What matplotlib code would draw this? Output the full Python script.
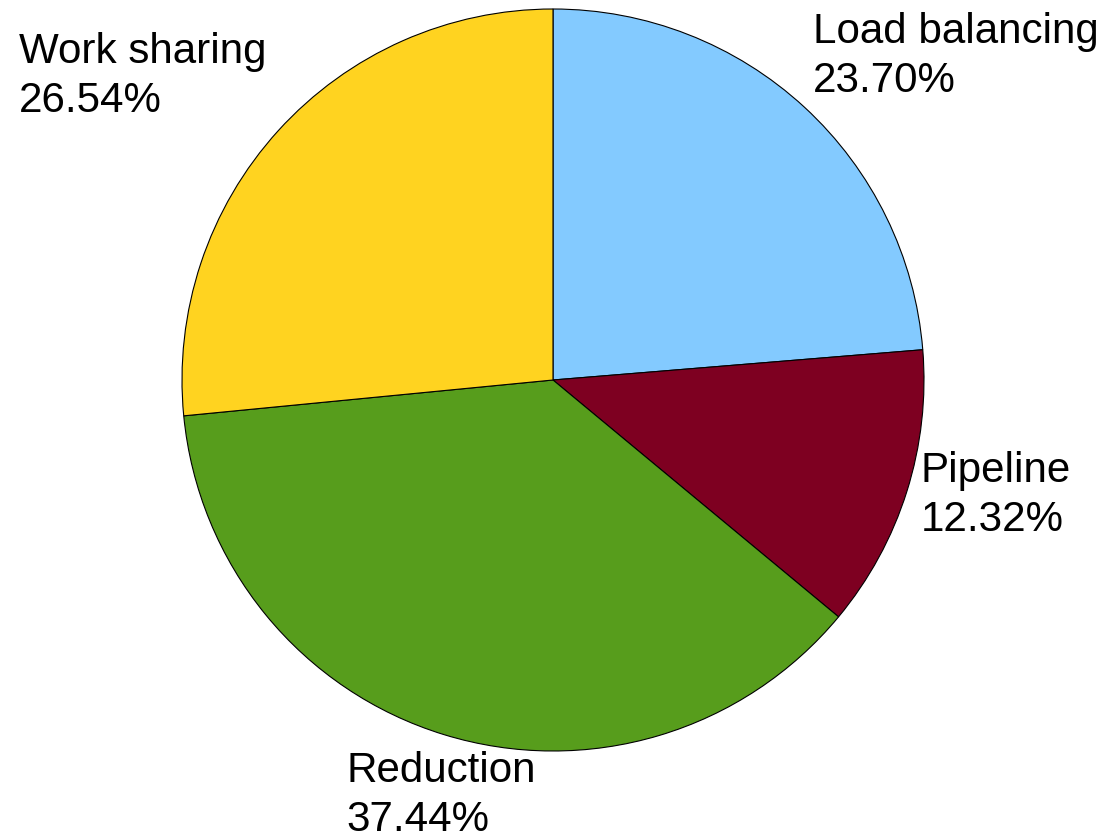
import matplotlib
matplotlib.use("Agg")
import matplotlib.pyplot as plt

categories = ["Load balancing", "Pipeline", "Reduction", "Work sharing"]
shares = [23.70, 12.32, 37.44, 26.54]
colors = ["#83CAFF", "#7E0021", "#579D1C", "#FFD320"]

W, H = 1105, 838
fig = plt.figure(figsize=(W / 100, H / 100), dpi=100)

# pie centred at (553, 380) px with radius 371 px
cx, cy, r = 553, 380, 371
ax = fig.add_axes([(cx - r) / W, (H - cy - r) / H, 2 * r / W, 2 * r / H])
ax.pie(shares, colors=colors, startangle=90, counterclock=False, radius=1.0,
       wedgeprops=dict(edgecolor="black", linewidth=0.8))
ax.set_xlim(-1, 1)
ax.set_ylim(-1, 1)
ax.set_aspect("equal")
ax.axis("off")

# label anchors (left x, first-line baseline y) in pixels from top-left
label_pos = {
    "Load balancing": (813, 43),
    "Pipeline": (921, 482),
    "Reduction": (346, 782),
    "Work sharing": (19, 63),
}
for name, val in zip(categories, shares):
    x, y = label_pos[name]
    fig.text(x / W, 1 - y / H, name, family="Liberation Sans", fontsize=30.3,
             ha="left", va="baseline")
    fig.text(x / W, 1 - (y + 49) / H, f"{val:.2f}%", family="Liberation Sans",
             fontsize=30.3, ha="left", va="baseline")

fig.savefig("out.png", dpi=100)
